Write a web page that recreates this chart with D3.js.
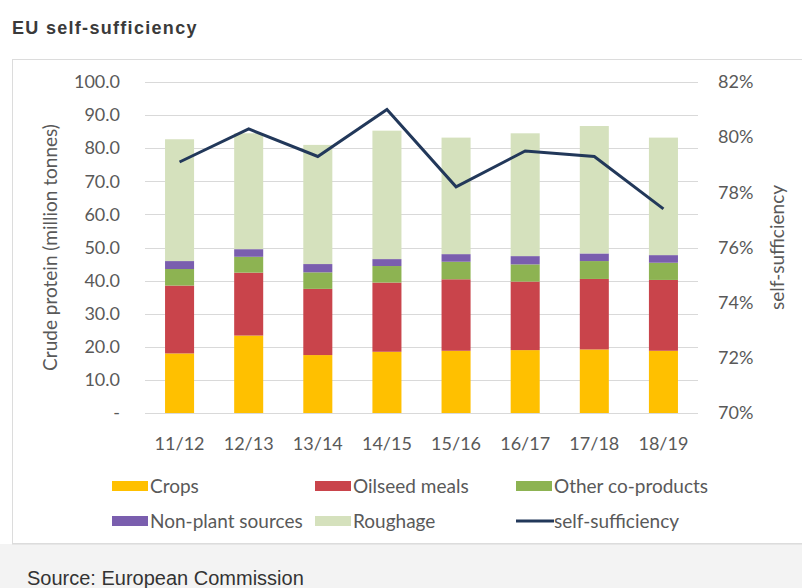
<!DOCTYPE html>
<html>
<head>
<meta charset="utf-8">
<script src="https://cdn.jsdelivr.net/npm/d3@7"></script>
<style>
  body { margin: 0; background: #fff; }
  svg { display: block; }
</style>
</head>
<body>
<div id="chart"></div>
<script>
// data
const seasons = ["11/12", "12/13", "13/14", "14/15", "15/16", "16/17", "17/18", "18/19"];
const crops = [18.0, 23.4, 17.5, 18.5, 18.8, 19.0, 19.2, 18.8];
const oilseedMeals = [20.5, 19.0, 20.0, 20.9, 21.6, 20.7, 21.3, 21.4];
const otherCoProducts = [5.0, 4.8, 5.0, 5.0, 5.3, 5.2, 5.4, 5.2];
const nonPlant = [2.4, 2.3, 2.5, 2.1, 2.3, 2.5, 2.3, 2.3];
const roughage = [36.8, 35.0, 36.0, 38.8, 35.2, 37.1, 38.5, 35.5];
const selfSufficiency = [0.791, 0.803, 0.793, 0.810, 0.782, 0.795, 0.793, 0.774];
const leftTicks = [0, 10, 20, 30, 40, 50, 60, 70, 80, 90, 100];
const rightTicks = [0.70, 0.72, 0.74, 0.76, 0.78, 0.80, 0.82];

const seriesNames = ["Crops", "Oilseed meals", "Other co-products", "Non-plant sources", "Roughage"];
const seriesValues = [crops, oilseedMeals, otherCoProducts, nonPlant, roughage];
const colors = ["#ffc000", "#c9444b", "#8db352", "#7a5eae", "#d5e1bd"];
const lineColor = "#22385a";

const W = 802, H = 588;
const svg = d3.select("#chart").append("svg")
    .attr("width", W)
    .attr("height", H);

// title
svg.append("text")
    .attr("x", 12).attr("y", 34)
    .attr("font-family", "Liberation Sans, Arial, sans-serif")
    .attr("font-weight", "bold")
    .attr("font-size", 18)
    .attr("letter-spacing", 1.3)
    .attr("fill", "#3a3a3a")
    .text("EU self-sufficiency");

// chart box and footer
svg.append("rect")
    .attr("x", 12.5).attr("y", 59.5)
    .attr("width", W).attr("height", 484)
    .attr("fill", "#fff")
    .attr("stroke", "#dcdcdc");
svg.append("rect")
    .attr("x", 0).attr("y", 544)
    .attr("width", W).attr("height", H - 544)
    .attr("fill", "#f3f3f3");
svg.append("line")
    .attr("x1", 12).attr("x2", W)
    .attr("y1", 544.5).attr("y2", 544.5)
    .attr("stroke", "#e6e6e6");
svg.append("text")
    .attr("x", 27).attr("y", 585)
    .attr("font-family", "Liberation Sans, Arial, sans-serif")
    .attr("font-size", 20)
    .attr("fill", "#333")
    .text("Source: European Commission");

// scales
const plot = { left: 145, right: 698, top: 82, bottom: 413 };
const x = d3.scaleBand()
    .domain(seasons)
    .range([plot.left, plot.right])
    .paddingInner(0.58)
    .paddingOuter(0.29);
const y = d3.scaleLinear().domain([0, 100]).range([plot.bottom, plot.top]);
const y2 = d3.scaleLinear().domain([0.70, 0.82]).range([plot.bottom, plot.top]);

const tickFont = "Lato, Carlito, sans-serif";
const tickColor = "#595959";

// gridlines
svg.append("g")
    .selectAll("line")
    .data(leftTicks)
    .join("line")
    .attr("x1", plot.left).attr("x2", plot.right)
    .attr("y1", d => Math.round(y(d)) + 0.5)
    .attr("y2", d => Math.round(y(d)) + 0.5)
    .attr("stroke", "#d9d9d9");

// left axis
const leftAxis = svg.append("g")
    .attr("transform", `translate(${plot.left - 22},0)`)
    .call(d3.axisLeft(y).tickValues(leftTicks).tickSize(0)
        .tickFormat(d => d === 0 ? "-" : d3.format(".1f")(d)));
leftAxis.select(".domain").remove();
leftAxis.selectAll("text")
    .attr("font-family", tickFont).attr("font-size", 18).attr("fill", tickColor);

// right axis
const rightAxis = svg.append("g")
    .attr("transform", `translate(${plot.right + 17},0)`)
    .call(d3.axisRight(y2).tickValues(rightTicks).tickSize(0)
        .tickFormat(d3.format(".0%")));
rightAxis.select(".domain").remove();
rightAxis.selectAll("text")
    .attr("font-family", tickFont).attr("font-size", 18).attr("fill", tickColor);

// x axis
const xAxis = svg.append("g")
    .attr("transform", `translate(0,${plot.bottom + 21})`)
    .call(d3.axisBottom(x).tickSize(0));
xAxis.select(".domain").remove();
xAxis.selectAll("text")
    .attr("font-family", tickFont).attr("font-size", 18).attr("fill", tickColor);

// axis titles
svg.append("text")
    .attr("transform", `translate(57,${(plot.top + plot.bottom) / 2}) rotate(-90)`)
    .attr("text-anchor", "middle")
    .attr("font-family", tickFont).attr("font-size", 19).attr("fill", tickColor)
    .text("Crude protein (million tonnes)");
svg.append("text")
    .attr("transform", `translate(784,${(plot.top + plot.bottom) / 2}) rotate(-90)`)
    .attr("text-anchor", "middle")
    .attr("font-family", tickFont).attr("font-size", 19).attr("fill", tickColor)
    .text("self-sufficiency");

// stacked bars
const table = seasons.map((s, i) => {
    const row = { season: s };
    seriesNames.forEach((n, k) => { row[n] = seriesValues[k][i]; });
    return row;
});
const stacked = d3.stack().keys(seriesNames)(table);

svg.append("g")
    .selectAll("g")
    .data(stacked)
    .join("g")
    .attr("fill", (d, i) => colors[i])
    .selectAll("rect")
    .data(d => d)
    .join("rect")
    .attr("x", d => x(d.data.season))
    .attr("width", x.bandwidth())
    .attr("y", d => y(d[1]))
    .attr("height", d => y(d[0]) - y(d[1]));

// self-sufficiency line
const line = d3.line()
    .x((d, i) => x(seasons[i]) + x.bandwidth() / 2)
    .y(d => y2(d));
svg.append("path")
    .datum(selfSufficiency)
    .attr("d", line)
    .attr("fill", "none")
    .attr("stroke", lineColor)
    .attr("stroke-width", 3)
    .attr("stroke-linejoin", "miter");

// legend
const legendItems = [
    { name: "Crops", color: colors[0], kind: "rect", col: 0, row: 0 },
    { name: "Oilseed meals", color: colors[1], kind: "rect", col: 1, row: 0 },
    { name: "Other co-products", color: colors[2], kind: "rect", col: 2, row: 0 },
    { name: "Non-plant sources", color: colors[3], kind: "rect", col: 0, row: 1 },
    { name: "Roughage", color: colors[4], kind: "rect", col: 1, row: 1 },
    { name: "self-sufficiency", color: lineColor, kind: "line", col: 2, row: 1 }
];
const colX = [112, 315, 516];
const rowY = [486, 521];
const lg = svg.append("g")
    .selectAll("g")
    .data(legendItems)
    .join("g")
    .attr("transform", d => `translate(${colX[d.col]},${rowY[d.row]})`);
lg.filter(d => d.kind === "rect").append("rect")
    .attr("x", 0).attr("y", -5)
    .attr("width", 36).attr("height", 10)
    .attr("fill", d => d.color);
lg.filter(d => d.kind === "line").append("line")
    .attr("x1", 0).attr("x2", 38)
    .attr("y1", 0).attr("y2", 0)
    .attr("stroke", d => d.color)
    .attr("stroke-width", 3);
lg.append("text")
    .attr("x", 38)
    .attr("y", 0)
    .attr("dy", "0.35em")
    .attr("font-family", tickFont).attr("font-size", 19).attr("fill", tickColor)
    .text(d => d.name);
</script>
</body>
</html>
